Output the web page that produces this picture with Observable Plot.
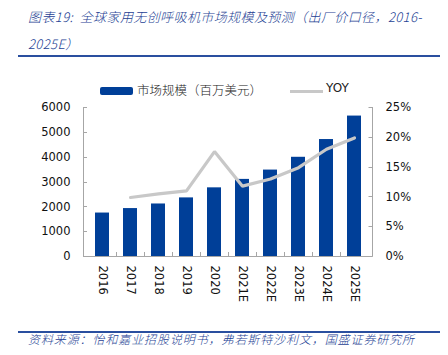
<!DOCTYPE html>
<html><head><meta charset="utf-8">
<script src="https://cdn.jsdelivr.net/npm/d3@7"></script>
<script src="https://cdn.jsdelivr.net/npm/@observablehq/plot@0.6"></script>
<style>
body{margin:0;background:#fff;}
#wrap{position:relative;width:448px;height:355px;overflow:hidden;background:#fff;}
.title{position:absolute;left:28px;top:3px;font-family:"Noto Sans CJK SC",sans-serif;font-weight:300;font-style:italic;font-size:13px;color:#1e3f94;line-height:27px;white-space:nowrap;letter-spacing:0.4px;}
.rule{position:absolute;left:18px;width:422px;height:2px;background:#2a4f9f;}
.legend{position:absolute;top:80px;left:100px;height:20px;font-size:12.5px;color:#222;}
.sw{position:absolute;}
.lt{position:absolute;white-space:nowrap;}
.foot{position:absolute;left:28px;top:330px;font-family:"Noto Sans CJK SC",sans-serif;font-weight:300;font-style:italic;font-size:12px;color:#1e3f94;white-space:nowrap;letter-spacing:0.9px;}
#chart{position:absolute;left:0;top:60px;}
</style></head>
<body>
<div id="wrap">
  <div class="title">图表19:&nbsp; 全球家用无创呼吸机市场规模及预测（出厂价口径，2016-<br>2025E）</div>
  <div class="rule" style="top:55px"></div>
  <div id="chart"></div>
  <div class="legend">
    <div class="sw" style="left:0;top:7px;width:33px;height:8px;background:#003f98;border-radius:2px"></div>
    <div class="lt" style="left:37px;top:0;font-family:'Noto Sans CJK SC',sans-serif;font-weight:300;">市场规模（百万美元）</div>
    <div class="sw" style="left:190px;top:10px;width:33px;height:3px;background:#c8c8c8"></div>
    <div class="lt" style="left:226px;top:1px;font-family:'DejaVu Sans',sans-serif;font-size:12px;">YOY</div>
  </div>
  <div class="rule" style="top:331px"></div>
  <div class="foot">资料来源：怡和嘉业招股说明书，弗若斯特沙利文，国盛证券研究所</div>
</div>
<script>
const years = ["2016","2017","2018","2019","2020","2021E","2022E","2023E","2024E","2025E"];
const marketSize = [1750, 1930, 2115, 2360, 2765, 3105, 3480, 3995, 4710, 5655];
const yoyYears = ["2017","2018","2019","2020","2021E","2022E","2023E","2024E","2025E"];
const yoy = [9.9, 10.5, 11.0, 17.6, 11.8, 13.0, 14.9, 18.0, 19.9];
const leftTicks = [0,1000,2000,3000,4000,5000,6000];
const rightTicks = [0,5,10,15,20,25];

const leftMax = 6000, rightMax = 25;
const k = leftMax / rightMax;
const padInner = 0.5;
const axisColor = "#a6a6a6";

const bars = years.map((y,i)=>({year:y, value:marketSize[i]}));
const line = yoyYears.map((y,i)=>({year:y, yoy:yoy[i]}));

function axesFrame(index, scales, values, dims) {
  const x0 = dims.marginLeft, x1 = dims.width - dims.marginRight;
  const y0 = dims.marginTop, y1 = dims.height - dims.marginBottom;
  const g = d3.create("svg:g").attr("fill","none").attr("stroke",axisColor).attr("stroke-width",1);
  const xs = years.map(c => scales.x(c));
  const step = xs[1]-xs[0];
  const bw = typeof scales.x.bandwidth === "function" ? scales.x.bandwidth() : step*(1-padInner);
  const p = [];
  p.push(`M${x0+0.5},${y0}V${y1+0.5}H${x1+0.5}V${y0}`);
  for (let i=0;i<years.length-1;i++){
    const bx = Math.round((xs[i]+xs[i+1])/2 + bw/2)+0.5;
    p.push(`M${bx},${y1}v-4`);
  }
  for (const t of leftTicks){
    const yy = Math.round(scales.y(t))+0.5;
    p.push(`M${x0},${yy}h4`);
  }
  for (const t of rightTicks){
    const yy = Math.round(scales.y(t*k))+0.5;
    p.push(`M${x1+0.5},${yy}h-4`);
  }
  g.append("path").attr("d", p.join(""));
  return g.node();
}

const chart = Plot.plot({
  width: 448,
  height: 260,
  marginTop: 47,
  marginBottom: 64,
  marginLeft: 83,
  marginRight: 76,
  style: {fontFamily: "'DejaVu Sans', sans-serif", fontSize: "11px", color: "#111", background: "#fff"},
  x: {type: "band", domain: years, paddingInner: padInner, paddingOuter: 0.25},
  y: {domain: [0, leftMax]},
  marks: [
    Plot.barY(bars, {x: "year", y: "value", fill: "#003f98"}),
    Plot.line(line, {x: "year", y: d => d.yoy * k, stroke: "#c8c8c8", strokeWidth: 3.2, strokeLinejoin: "miter"}),
    axesFrame,
    Plot.axisY({anchor: "left", ticks: leftTicks, tickFormat: d => String(d), tickSize: 0, tickPadding: 13, fontSize: 11.5, label: null}),
    Plot.axisY({anchor: "right", ticks: rightTicks.map(t=>t*k), tickFormat: d => Math.round(d/k) + "%", tickSize: 0, tickPadding: 13, fontSize: 11.5, label: null}),
    Plot.axisX({tickSize: 0, tickRotate: 90, tickPadding: 9, fontSize: 11.5, label: null})
  ]
});
document.getElementById("chart").appendChild(chart);
</script>
</body></html>
